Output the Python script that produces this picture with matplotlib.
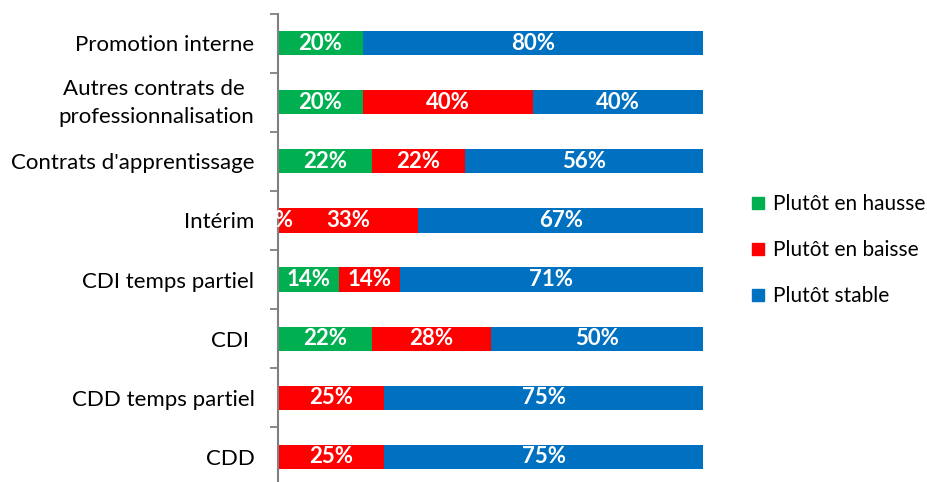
import numpy as np
import matplotlib.pyplot as plt
from matplotlib.lines import Line2D
from matplotlib.transforms import ScaledTranslation

plt.rcParams['font.family'] = ['Lato', 'DejaVu Sans']

# data (top to bottom)
categories = ['Promotion interne', 'Autres contrats de \nprofessionnalisation',
              "Contrats d'apprentissage", 'Intérim', 'CDI temps partiel',
              'CDI ', 'CDD temps partiel', 'CDD']
hausse = [20, 20, 22, 0, 14.3, 22, np.nan, np.nan]
baisse = [np.nan, 40, 22, 33, 14.3, 28, 25, 25]
stable = [80, 40, 56, 67, 71.4, 50, 75, 75]
series_names = ['Plutôt en hausse', 'Plutôt en baisse', 'Plutôt stable']
colors = ['#00B050', '#FF0000', '#0070C0']

fig = plt.figure(figsize=(9.27, 4.82), dpi=100)
ax = fig.add_axes([278/927, -4.5/482, 425/927, 473/482])

y = np.arange(len(categories))[::-1]
left = np.zeros(len(categories))
for vals, col in zip([hausse, baisse, stable], colors):
    v = np.array(vals, dtype=float)
    w = np.nan_to_num(v)
    ax.barh(y, w, left=left, height=0.41, color=col, zorder=2)
    for yi, li, vi in zip(y, left, v):
        if not np.isnan(vi):
            ax.text(li + vi/2, yi, f'{vi:.0f}%', ha='center', va='center',
                    color='white', fontsize=16, fontweight='bold', zorder=4)
    left += w

ax.set_xlim(0, 100)
ax.set_ylim(-0.5, 7.5)
ax.set_xticks([])
ax.set_yticks(y)
ax.set_yticklabels(categories, fontsize=16, multialignment='center', linespacing=1.5)
ax.set_yticks(np.arange(-0.5, 8, 1), minor=True)
ax.tick_params(axis='y', which='major', length=0, pad=17)
ax.tick_params(axis='y', which='minor', length=6, color='#808080', width=1.3)
for s in ['top', 'right', 'bottom']:
    ax.spines[s].set_visible(False)
ax.spines['left'].set_color('#808080')
ax.spines['left'].set_linewidth(1.5)
ax.spines['left'].set_zorder(3)

# nudge the two-line label up a little
for lbl in ax.get_yticklabels():
    if '\n' in lbl.get_text():
        lbl.set_transform(lbl.get_transform() + ScaledTranslation(0, 5/100, fig.dpi_scale_trans))

handles = [Line2D([], [], marker='s', linestyle='none', markersize=9,
                  markerfacecolor=c, markeredgecolor=c) for c in colors]
fig.legend(handles, series_names, loc='center left', bbox_to_anchor=(729/927, 1 - 250/482),
           frameon=False, fontsize=15, labelspacing=1.25, handletextpad=0.2,
           handlelength=1.0)

fig.savefig('out.png', dpi=100)
